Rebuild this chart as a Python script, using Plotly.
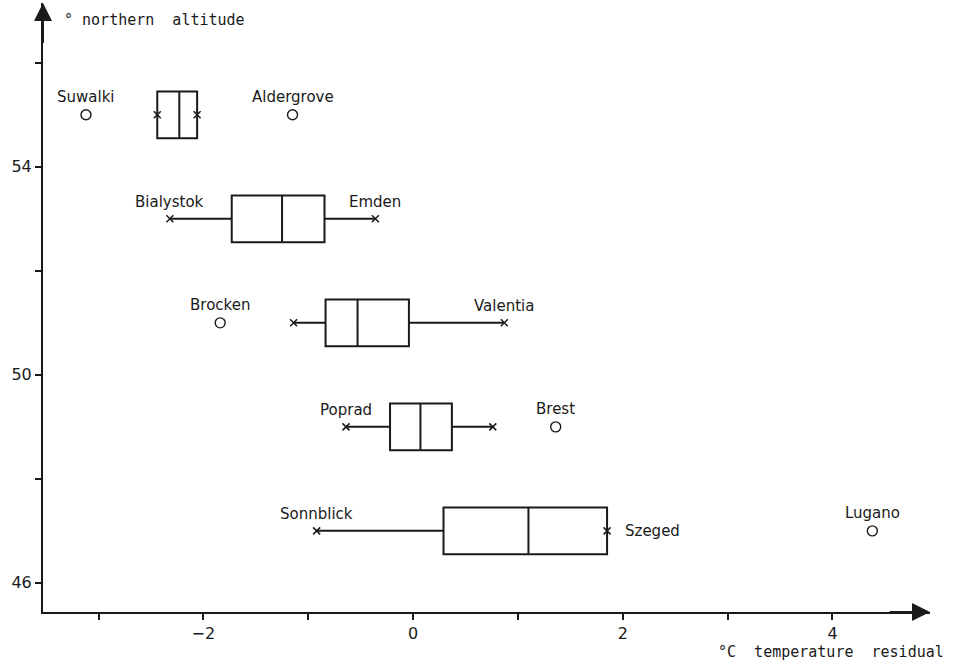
import plotly.graph_objects as go

# Station latitude bands (degrees north) and temperature residual statistics (°C)
latitudes = [55, 53, 51, 49, 47]
q1 = [-2.44, -1.73, -0.835, -0.22, 0.29]
medians = [-2.23, -1.25, -0.53, 0.07, 1.10]
q3 = [-2.06, -0.845, -0.04, 0.37, 1.85]
whisker_low = [-2.44, -2.32, -1.14, -0.64, -0.92]
whisker_high = [-2.06, -0.36, 0.87, 0.76, 1.85]
low_names = ["", "Bialystok", "", "Poprad", "Sonnblick"]
high_names = ["", "Emden", "Valentia", "", "Szeged"]

# Outlying stations
outlier_names = ["Suwalki", "Aldergrove", "Brocken", "Brest", "Lugano"]
outlier_x = [-3.12, -1.15, -1.84, 1.36, 4.38]
outlier_y = [55, 55, 51, 49, 47]

x_ticks = [-3, -2, -1, 0, 1, 2, 3, 4]
x_tick_labels = ["", "\u22122", "", "0", "", "2", "", "4"]
y_ticks = [46, 48, 50, 52, 54, 56]
y_tick_labels = ["46", "", "50", "", "54", ""]

X_RANGE = [-3.53, 4.93]
Y_RANGE = [45.44, 57.15]

INK = "#1a1a1a"
LABEL_FONT = dict(family="DejaVu Sans", size=15, color=INK)
TITLE_FONT = dict(family="DejaVu Sans Mono", size=15, color=INK)

fig = go.Figure()

fig.add_trace(go.Box(
    orientation="h",
    y=latitudes,
    q1=q1,
    median=medians,
    q3=q3,
    lowerfence=whisker_low,
    upperfence=whisker_high,
    width=0.9,
    whiskerwidth=0,
    boxpoints=False,
    fillcolor="rgba(255,255,255,0)",
    line=dict(color=INK, width=2),
    hoverinfo="skip",
    showlegend=False,
))

# Whisker end marks
fig.add_trace(go.Scatter(
    x=whisker_low + whisker_high,
    y=latitudes + latitudes,
    mode="markers",
    marker=dict(symbol="x-thin-open", size=7, color=INK,
                line=dict(color=INK, width=1.5)),
    hoverinfo="skip",
    showlegend=False,
))

# Outliers as open circles
fig.add_trace(go.Scatter(
    x=outlier_x,
    y=outlier_y,
    mode="markers",
    marker=dict(symbol="circle-open", size=10, color=INK,
                line=dict(color=INK, width=1.4)),
    hoverinfo="skip",
    showlegend=False,
))

annotations = []
for name, x, y in zip(outlier_names, outlier_x, outlier_y):
    annotations.append(dict(x=x, y=y, xref="x", yref="y", text=name,
                            showarrow=False, yshift=18, font=LABEL_FONT))
for names, xs in ((low_names, whisker_low), (high_names, whisker_high)):
    for name, x, y in zip(names, xs, latitudes):
        if not name:
            continue
        if name == "Szeged":
            annotations.append(dict(x=x, y=y, xref="x", yref="y", text=name,
                                    showarrow=False, xanchor="left", xshift=16,
                                    font=LABEL_FONT))
        else:
            annotations.append(dict(x=x, y=y, xref="x", yref="y", text=name,
                                    showarrow=False, yshift=17, font=LABEL_FONT))

# Arrow heads at the ends of both axes
annotations.append(dict(x=X_RANGE[1], y=Y_RANGE[0], ax=X_RANGE[1] - 0.4, ay=Y_RANGE[0],
                        xref="x", yref="y", axref="x", ayref="y", text="",
                        showarrow=True, arrowhead=2, arrowsize=1.8, arrowwidth=2,
                        arrowcolor=INK, standoff=0, startstandoff=0))
annotations.append(dict(x=X_RANGE[0], y=Y_RANGE[1], ax=X_RANGE[0], ay=Y_RANGE[1] - 0.8,
                        xref="x", yref="y", axref="x", ayref="y", text="",
                        showarrow=True, arrowhead=2, arrowsize=1.8, arrowwidth=2,
                        arrowcolor=INK, standoff=0, startstandoff=0))

# Axis titles
annotations.append(dict(x=0.0, y=1.0, xref="paper", yref="paper",
                        text="\u00b0 northern  altitude", showarrow=False,
                        xanchor="left", yanchor="middle", xshift=19, yshift=-17,
                        font=TITLE_FONT))
annotations.append(dict(x=1.0, y=0.0, xref="paper", yref="paper",
                        text="\u00b0C  temperature  residual", showarrow=False,
                        xanchor="right", yanchor="middle", xshift=16, yshift=-40,
                        font=TITLE_FONT))

fig.update_layout(
    width=960,
    height=666,
    margin=dict(l=43, r=30, t=3, b=54),
    paper_bgcolor="white",
    plot_bgcolor="white",
    annotations=annotations,
    xaxis=dict(
        range=X_RANGE,
        showgrid=False,
        zeroline=False,
        showline=True,
        linecolor=INK,
        linewidth=2,
        ticks="outside",
        ticklen=6,
        tickwidth=1.5,
        tickcolor=INK,
        tickvals=x_ticks,
        ticktext=x_tick_labels,
        tickfont=dict(family="DejaVu Sans", size=16, color=INK),
    ),
    yaxis=dict(
        range=Y_RANGE,
        showgrid=False,
        zeroline=False,
        showline=True,
        linecolor=INK,
        linewidth=2,
        ticks="outside",
        ticklen=6,
        tickwidth=1.5,
        tickcolor=INK,
        tickvals=y_ticks,
        ticktext=y_tick_labels,
        tickfont=dict(family="DejaVu Sans", size=16, color=INK),
    ),
)

fig.write_html("out.html")
